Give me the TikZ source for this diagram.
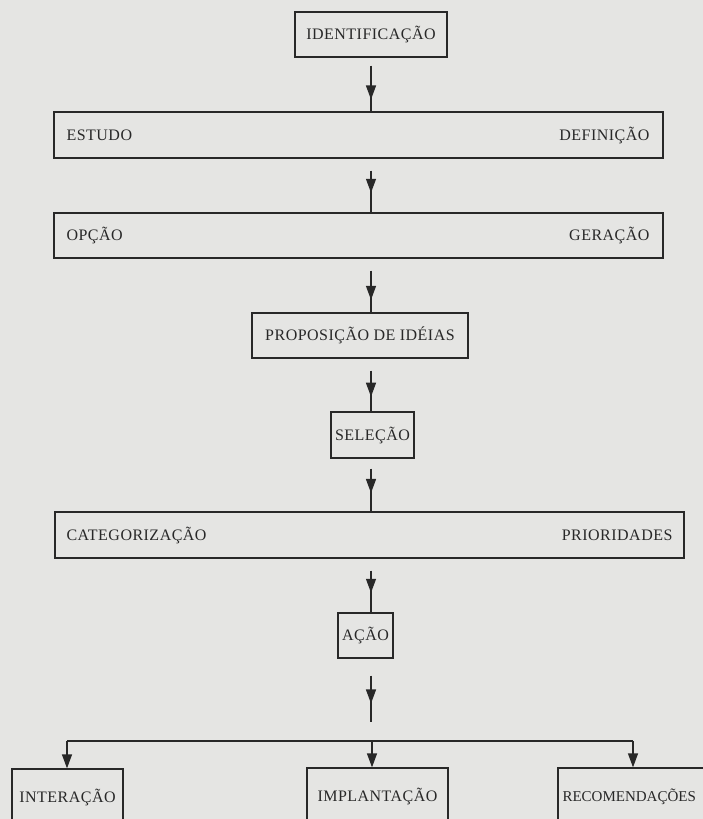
\documentclass[tikz,border=0pt]{standalone}
\usepackage{fontspec}
\setmainfont{Liberation Serif}[LetterSpace=3]
\newfontfamily\tightserif{Liberation Serif}
\usetikzlibrary{arrows.meta,decorations.markings,calc}
\definecolor{bg}{RGB}{229,229,227}
\definecolor{ink}{RGB}{40,40,40}
\begin{document}
\begin{tikzpicture}[x=1pt,y=-1pt,
  txt/.style={text=ink, font=\fontsize{16}{19}\selectfont, text height=10.6pt, text depth=0pt},
  box/.style={draw=ink, line width=1.3pt, inner sep=0pt, txt},
  lbl/.style={inner sep=0pt, txt},
  conn/.style={draw=ink, line width=1.3pt, postaction={decorate},
    decoration={markings, mark=at position #1 with {\arrow{Triangle[length=14pt,width=10pt]}}}},
  conn/.default=0.6,
  busline/.style={draw=ink, line width=1.3pt},
  drop/.style={draw=ink, line width=1.3pt, -{Triangle[length=14pt,width=10pt]}},
]
\useasboundingbox (0,0) rectangle (703,819);
\clip (0,0) rectangle (703,819);
\fill[bg] (0,0) rectangle (703,819);

\node[box, minimum width=152pt, minimum height=45pt] (id) at (371,34.5) {IDENTIFICAÇÃO};

\node[box, minimum width=609pt, minimum height=46pt] (b1) at (358.5,135) {};
\node[lbl, anchor=west] (estudo) at ([xshift=13pt]b1.west) {ESTUDO};
\node[lbl, anchor=east] (definicao) at ([xshift=-14pt]b1.east) {DEFINIÇÃO};

\node[box, minimum width=609pt, minimum height=45pt] (b2) at (358.5,235.5) {};
\node[lbl, anchor=west] (opcao) at ([xshift=13pt]b2.west) {OPÇÃO};
\node[lbl, anchor=east] (geracao) at ([xshift=-14pt]b2.east) {GERAÇÃO};

\node[box, minimum width=216pt, minimum height=45pt] (b3) at (360,335.5) {PROPOSIÇÃO DE IDÉIAS};

\node[box, minimum width=83pt, minimum height=46pt] (b4) at (372.5,435) {SELEÇÃO};

\node[box, minimum width=629pt, minimum height=46pt] (b5) at (369.5,535) {};
\node[lbl, anchor=west] (categ) at ([xshift=12pt]b5.west) {CATEGORIZAÇÃO};
\node[lbl, anchor=east] (prior) at ([xshift=-12pt]b5.east) {PRIORIDADES};

\node[box, minimum width=55pt, minimum height=45pt] (b6) at (365.5,635.5) {AÇÃO};

\node[box, minimum width=111pt, minimum height=56pt] (b7) at (67.5,797) {INTERAÇÃO};
\node[box, minimum width=141pt, minimum height=56pt] (b8) at (377.5,796) {IMPLANTAÇÃO};
\node[box, minimum width=160pt, minimum height=56pt] (b9) at (638,796) {};
\node[lbl, anchor=west, font=\tightserif\fontsize{15}{18}\selectfont] (recom) at ([xshift=5pt]b9.west) {RECOMENDAÇÕES};

\coordinate (ax) at (371,0);
\draw[conn=0.74] ($(id.south)+(0,8)$) -- (id.south |- b1.north);
\draw[conn=0.53] ($(b1.south -| ax)+(0,12)$) -- (b2.north -| ax);
\draw[conn=0.70] ($(b2.south -| ax)+(0,12)$) -- (b3.north -| ax);
\draw[conn=0.64] ($(b3.south -| ax)+(0,12)$) -- (b4.north -| ax);
\draw[conn=0.57] ($(b4.south -| ax)+(0,10)$) -- (b5.north -| ax);
\draw[conn=0.53] ($(b5.south -| ax)+(0,12)$) -- (b6.north -| ax);
\coordinate (a7end) at (371,722);
\draw[conn=0.6] ($(b6.south -| ax)+(0,17)$) -- (a7end);

\coordinate (busL) at (67,741);
\coordinate (busC) at (372,741);
\coordinate (busR) at (633,741);
\draw[busline] (busL) -- (busR);
\draw[drop] (busL) -- (busL |- b7.north);
\draw[drop] (busC) -- (busC |- b8.north);
\draw[drop] (busR) -- (busR |- b9.north);
\end{tikzpicture}
\end{document}
